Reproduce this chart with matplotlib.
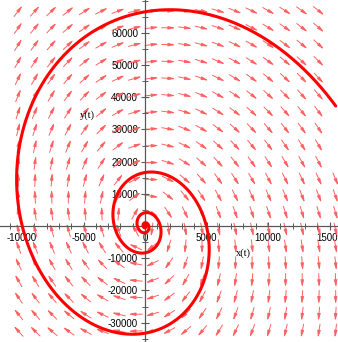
## Modules ##
import numpy as np
import matplotlib
matplotlib.use('Agg')
import matplotlib.pyplot as plt
from matplotlib.ticker import FixedLocator, MultipleLocator

## Values ##

#Linear system  x' = a*x + b*y ,  y' = c*x + d*y
a, b = 0.3008, 0.2166
c, d = -4.6465, 0.1405

#Trajectory: last point and how far back in time it is traced
endPoint = [15500, 37300]
tBack = 9 * np.pi

#Direction field grid (20 x 20 arrows over the solution's extent)
gridX = [-10300, 15500]
gridY = [-32600, 66800]
gridN = 20

#View window and ticks
xRange = [-11790, 15690]
yRange = [-36000, 70200]
xTicks = [-10000, -5000, 0, 5000, 10000, 15000]
yTicks = [-30000, -20000, -10000, 10000, 20000, 30000, 40000, 50000, 60000]

## Figure ##
W, H = 338, 342
fig = plt.figure(figsize=(W / 100, H / 100), dpi=100)
ax = fig.add_axes([0, 0, 1, 1])
ax.set_xlim(xRange)
ax.set_ylim(yRange)

#Pixels per data unit, used to keep arrows the same size on screen
sx = W / (xRange[1] - xRange[0])
sy = H / (yRange[1] - yRange[0])

## Direction field ##
half = 7.0      #half arrow length in pixels
for gx in np.linspace(gridX[0], gridX[1], gridN):
    for gy in np.linspace(gridY[0], gridY[1], gridN):
        u = a * gx + b * gy
        v = c * gx + d * gy
        pu, pv = u * sx, v * sy
        n = np.hypot(pu, pv)
        if n == 0:
            continue
        ox = pu / n * half / sx
        oy = pv / n * half / sy
        ax.annotate('', xy=(gx + ox, gy + oy), xytext=(gx - ox, gy - oy),
                    arrowprops=dict(arrowstyle='-|>,head_length=0.4,head_width=0.09',
                                    color=(1.0, 0.38, 0.38), lw=0.7,
                                    shrinkA=0, shrinkB=0, mutation_scale=10),
                    zorder=2)

## Solution curve ##
A = np.array([[a, b], [c, d]])
w, V = np.linalg.eig(A)
Vi = np.linalg.inv(V)
t = np.linspace(-tBack, 0, 6000)
coeffs = Vi @ np.array(endPoint, dtype=complex)
path = (V @ (np.exp(np.outer(w, t)) * coeffs[:, None])).real
ax.plot(path[0], path[1], color='red', lw=2.2, zorder=3, solid_capstyle='round')

## Axes ##
for side in ['top', 'right']:
    ax.spines[side].set_visible(False)
ax.spines['left'].set_position('zero')
ax.spines['bottom'].set_position('zero')
for side in ['left', 'bottom']:
    ax.spines[side].set_color('0.35')
    ax.spines[side].set_linewidth(0.9)

ax.xaxis.set_major_locator(FixedLocator(xTicks))
ax.yaxis.set_major_locator(FixedLocator(yTicks))
ax.xaxis.set_minor_locator(MultipleLocator(1000))
ax.yaxis.set_minor_locator(MultipleLocator(5000))
ax.set_xticklabels([str(v) for v in xTicks])
ax.set_yticklabels([str(v) for v in yTicks])
ax.tick_params(which='major', direction='inout', length=6, width=0.8, color='0.35',
               labelsize=7, pad=2)
ax.tick_params(which='minor', direction='inout', length=4, width=0.7, color='0.35')
for lab in ax.get_xticklabels() + ax.get_yticklabels():
    lab.set_family('Liberation Sans')

ax.text(7970, -8400, 'x(t)', family='Liberation Serif', fontsize=7.5, ha='center', va='center')
ax.text(-4715, 34470, 'y(t)', family='Liberation Serif', fontsize=7.5, ha='center', va='center')

fig.savefig('out.png', dpi=100)
